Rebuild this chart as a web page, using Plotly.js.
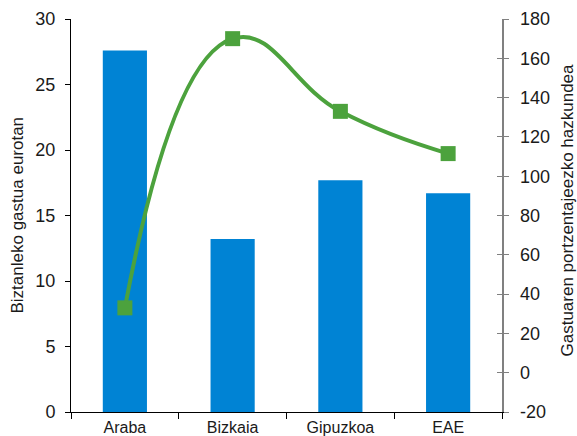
<!DOCTYPE html>
<html>
<head>
<meta charset="utf-8">
<script src="https://cdn.plot.ly/plotly-3.0.1.min.js"></script>
<style>
  html, body { margin: 0; padding: 0; background: #fff; }
  #chart { width: 577px; height: 436px; }
</style>
</head>
<body>
<div id="chart"></div>
<script>
// Lurraldeak
const categories = ['Araba', 'Bizkaia', 'Gipuzkoa', 'EAE'];
// Biztanleko gastua eurotan (ezkerreko ardatza)
const perCapitaSpend = [27.6, 13.2, 17.7, 16.7];
// Gastuaren portzentaje-hazkundea (eskuineko ardatza)
const spendGrowthPct = [33, 170, 133, 111.5];

const leftTicks = [0, 5, 10, 15, 20, 25, 30];
const rightTicks = [-20, 0, 20, 40, 60, 80, 100, 120, 140, 160, 180];
const rightTickText = ['-20', '0', '20', '40', '60', '80', '100', '120', '140', '160', '180'];

const FONT = 'Liberation Sans, Arial, Helvetica, sans-serif';
const TXT = '#1a1a1a';

const traces = [
  {
    type: 'bar',
    x: categories,
    y: perCapitaSpend,
    marker: { color: '#0083d4' },
    width: 0.41,
    hoverinfo: 'x+y'
  },
  {
    type: 'scatter',
    mode: 'lines+markers',
    x: categories,
    y: spendGrowthPct,
    yaxis: 'y2',
    line: { color: '#4ca23d', width: 4, shape: 'spline', smoothing: 1.3 },
    marker: { symbol: 'square', size: 15, color: '#4ca23d' },
    hoverinfo: 'x+y'
  },
  // invisible trace carrying the inner half of the right-hand ticks
  {
    type: 'scatter',
    x: categories,
    y: spendGrowthPct,
    yaxis: 'y3',
    mode: 'none',
    hoverinfo: 'skip',
    showlegend: false
  }
];

const layout = {
  width: 577,
  height: 436,
  margin: { l: 71, r: 75, t: 19, b: 24 },
  paper_bgcolor: '#fff',
  plot_bgcolor: '#fff',
  showlegend: false,
  font: { family: FONT, color: TXT, size: 17 },
  xaxis: {
    type: 'category',
    showgrid: false,
    zeroline: false,
    showline: true,
    linecolor: '#000',
    linewidth: 1,
    ticks: 'outside',
    tickson: 'boundaries',
    ticklen: 6,
    tickcolor: '#000',
    tickfont: { family: FONT, size: 16, color: TXT },
    ticklabelstandoff: 1,
    range: [-0.5, 3.5]
  },
  yaxis: {
    range: [0, 30],
    tickvals: leftTicks,
    showgrid: false,
    zeroline: false,
    showline: true,
    linecolor: '#000',
    linewidth: 1,
    ticks: 'outside',
    ticklen: 5,
    tickcolor: '#000',
    tickfont: { family: FONT, size: 18, color: TXT },
    ticklabelstandoff: 6
  },
  yaxis2: {
    overlaying: 'y',
    side: 'right',
    range: [-20, 180],
    tickvals: rightTicks,
    ticktext: rightTickText,
    showgrid: false,
    zeroline: false,
    showline: true,
    linecolor: '#808080',
    linewidth: 1.5,
    ticks: 'outside',
    ticklen: 5,
    tickcolor: '#808080',
    tickfont: { family: FONT, size: 18, color: TXT },
    ticklabelstandoff: 8
  },
  yaxis3: {
    overlaying: 'y',
    side: 'right',
    range: [-20, 180],
    tickvals: rightTicks,
    showticklabels: false,
    showgrid: false,
    zeroline: false,
    showline: false,
    ticks: 'inside',
    ticklen: 5,
    tickcolor: '#808080'
  },
  annotations: [
    {
      text: 'Biztanleko gastua eurotan',
      xref: 'paper', yref: 'paper',
      x: 0, y: 0.5, xshift: -54,
      xanchor: 'center', yanchor: 'middle',
      textangle: -90, showarrow: false,
      font: { family: FONT, size: 17, color: TXT }
    },
    {
      text: 'Gastuaren portzentajeezko hazkundea',
      xref: 'paper', yref: 'paper',
      x: 1, y: 0.5, xshift: 65, yshift: 5,
      xanchor: 'center', yanchor: 'middle',
      textangle: -90, showarrow: false,
      font: { family: FONT, size: 17, color: TXT }
    }
  ]
};

Plotly.newPlot('chart', traces, layout, { staticPlot: true, displayModeBar: false });
</script>
</body>
</html>
